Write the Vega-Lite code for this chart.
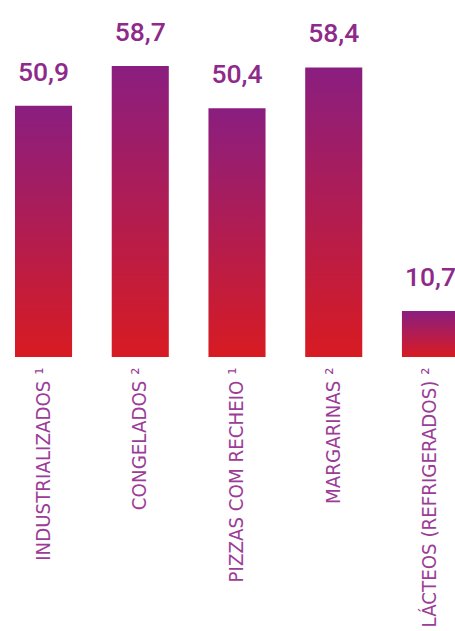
{
  "$schema": "https://vega.github.io/schema/vega-lite/v6.json",
  "width": 474,
  "height": 357,
  "autosize": "none",
  "padding": {"left": 0, "top": 0, "right": 0, "bottom": 274},
  "background": "white",
  "config": {
    "view": {"stroke": null},
    "locale": {"number": {"decimal": ",", "thousands": ".", "grouping": [3], "currency": ["R$", ""]}}
  },
  "data": {
    "values": [
      {"categoria": "INDUSTRIALIZADOS ¹", "valor": 50.9},
      {"categoria": "CONGELADOS ²", "valor": 58.7},
      {"categoria": "PIZZAS COM RECHEIO ¹", "valor": 50.4},
      {"categoria": "MARGARINAS ²", "valor": 58.4},
      {"categoria": "LÁCTEOS (REFRIGERADOS) ²", "valor": 10.7}
    ]
  },
  "encoding": {
    "x": {
      "field": "categoria",
      "type": "nominal",
      "sort": null,
      "scale": {"paddingInner": 0.41, "paddingOuter": 0.155},
      "axis": {
        "title": null,
        "labelAngle": -90,
        "labelAlign": "right",
        "labelBaseline": "middle",
        "labelFont": "Liberation Sans Narrow, DejaVu Sans Condensed, sans-serif",
        "labelFontSize": 20.3,
        "labelColor": "#9b3c97",
        "labelPadding": 10,
        "labelLimit": 0,
        "labelOverlap": false,
        "ticks": false,
        "domain": false,
        "grid": false
      }
    },
    "y": {
      "field": "valor",
      "type": "quantitative",
      "scale": {"domain": [1.7, 71.6], "zero": false, "nice": false},
      "axis": null
    }
  },
  "layer": [
    {
      "mark": {
        "type": "bar",
        "fill": {
          "gradient": "linear",
          "x1": 0, "y1": 0, "x2": 0, "y2": 1,
          "stops": [
            {"offset": 0, "color": "#8a1e80"},
            {"offset": 1, "color": "#d81b22"}
          ]
        }
      },
      "encoding": {"y2": {"datum": 1.7}}
    },
    {
      "mark": {
        "type": "text",
        "baseline": "alphabetic",
        "dy": -25,
        "font": "Roboto, sans-serif",
        "fontSize": 26.5,
        "fontWeight": 500,
        "fill": "#8e2a8a"
      },
      "encoding": {
        "text": {"field": "valor", "type": "quantitative", "format": ".1f"}
      }
    }
  ]
}
